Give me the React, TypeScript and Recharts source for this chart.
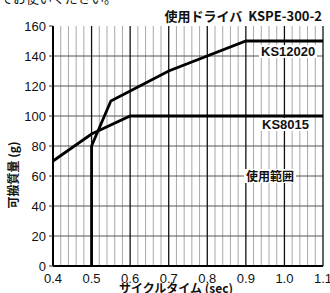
import {
  Line,
  LineChart,
  ReferenceLine,
  XAxis,
  YAxis,
} from 'recharts'

// KS8015 / KS12020 payload curves (cycle time sec -> payload g)
const ks8015 = [
  { x: 0.4, y: 70 },
  { x: 0.5, y: 88 },
  { x: 0.6, y: 100 },
  { x: 1.1, y: 100 },
]

const ks12020 = [
  { x: 0.5, y: 0 },
  { x: 0.5, y: 80 },
  { x: 0.55, y: 110 },
  { x: 0.7, y: 130 },
  { x: 0.9, y: 150 },
  { x: 1.1, y: 150 },
]

const xTicks = [0.4, 0.5, 0.6, 0.7, 0.8, 0.9, 1.0, 1.1]
const xMajorLines = [0.5, 0.6, 0.7, 0.8, 0.9, 1.0, 1.1]
const xMinorLines = [
  0.42, 0.44, 0.46, 0.48, 0.52, 0.54, 0.56, 0.58, 0.62, 0.64, 0.66, 0.68,
  0.72, 0.74, 0.76, 0.78, 0.82, 0.84, 0.86, 0.88, 0.92, 0.94, 0.96, 0.98,
  1.02, 1.04, 1.06, 1.08,
]
const yTicks = [0, 20, 40, 60, 80, 100, 120, 140, 160]
const yGridLines = [20, 40, 60, 80, 100, 120, 140]

const sans = '"Liberation Sans", Arial, sans-serif'
const jp = '"Noto Sans CJK JP", "Liberation Sans", sans-serif'

const labelBox = {
  position: 'absolute' as const,
  background: '#fff',
  fontFamily: sans,
  fontWeight: 700,
  fontSize: 13,
  lineHeight: '13px',
  color: '#111',
  whiteSpace: 'nowrap' as const,
}

export default function App() {
  return (
    <div
      style={{
        position: 'absolute',
        left: 0,
        top: 0,
        width: 330,
        height: 293,
        background: '#fff',
        overflow: 'hidden',
      }}
    >
      <div
        style={{
          position: 'absolute',
          left: 0,
          top: -12,
          fontFamily: jp,
          fontSize: 13,
          color: '#111',
          whiteSpace: 'nowrap',
        }}
      >
        でお使いください。
      </div>
      <LineChart
        width={330}
        height={293}
        margin={{ top: 26, right: 7, bottom: 0, left: 0 }}
      >
        <XAxis
          dataKey="x"
          type="number"
          domain={[0.4, 1.1]}
          ticks={xTicks}
          tickFormatter={(v) => Number(v).toFixed(1)}
          interval={0}
          allowDuplicatedCategory={false}
          tick={{ fill: '#111', fontSize: 13, fontFamily: sans }}
          tickLine={false}
          axisLine={{ stroke: '#000', strokeWidth: 2 }}
          height={27}
          tickMargin={2}
        />
        <YAxis
          dataKey="y"
          type="number"
          domain={[0, 160]}
          ticks={yTicks}
          interval={0}
          tick={{ fill: '#111', fontSize: 13, fontFamily: sans }}
          tickLine={{ stroke: '#333' }}
          tickSize={4}
          tickMargin={3}
          axisLine={{ stroke: '#000', strokeWidth: 2 }}
          width={53}
        />
        {xMinorLines.map((v) => (
          <ReferenceLine key={`m${v}`} x={v} stroke="#a8a8a8" strokeWidth={1} />
        ))}
        {yGridLines.map((v) => (
          <ReferenceLine key={`h${v}`} y={v} stroke="#555" strokeWidth={1} />
        ))}
        {xMajorLines.map((v) => (
          <ReferenceLine key={`M${v}`} x={v} stroke="#111" strokeWidth={1.3} />
        ))}
        <Line
          data={ks8015}
          dataKey="y"
          type="linear"
          stroke="#000"
          strokeWidth={2.8}
          dot={false}
          isAnimationActive={false}
        />
        <Line
          data={ks12020}
          dataKey="y"
          type="linear"
          stroke="#000"
          strokeWidth={2.8}
          dot={false}
          isAnimationActive={false}
        />
      </LineChart>
      <div
        style={{
          ...labelBox,
          right: 8,
          top: 9,
          fontFamily: jp,
          fontSize: 13,
          lineHeight: '14px',
          background: 'transparent',
        }}
      >
        使用ドライバ&nbsp; KSPE-300-2
      </div>
      <div style={{ ...labelBox, left: 259, top: 45, padding: '0 2px' }}>KS12020</div>
      <div style={{ ...labelBox, left: 260, top: 118, padding: '0 2px' }}>KS8015</div>
      <div
        style={{
          ...labelBox,
          left: 244,
          top: 169,
          fontFamily: jp,
          fontSize: 12,
          lineHeight: '14px',
          padding: '0 2px',
        }}
      >
        使用範囲
      </div>
      <div
        style={{
          position: 'absolute',
          left: 12,
          top: 175,
          transform: 'translate(-50%, -50%) rotate(-90deg)',
          fontFamily: jp,
          fontWeight: 700,
          fontSize: 12,
          color: '#111',
          whiteSpace: 'nowrap',
        }}
      >
        可搬質量 (g)
      </div>
      <div
        style={{
          position: 'absolute',
          left: 176,
          top: 288,
          transform: 'translate(-50%, -50%)',
          fontFamily: jp,
          fontWeight: 700,
          fontSize: 12,
          lineHeight: '14px',
          color: '#111',
          whiteSpace: 'nowrap',
        }}
      >
        サイクルタイム (sec)
      </div>
    </div>
  )
}
